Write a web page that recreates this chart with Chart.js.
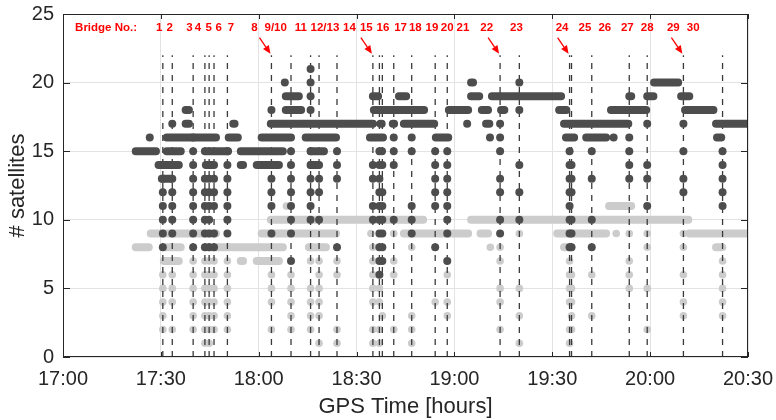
<!DOCTYPE html>
<html><head><meta charset="utf-8">
<script src="https://cdn.jsdelivr.net/npm/chart.js@4.4.1/dist/chart.umd.min.js"></script>
<style>html,body{margin:0;padding:0;background:#fff}</style>
</head><body>
<canvas id="c" width="776" height="420"></canvas>
<script>
// All times are minutes after 17:00 GPS time
const xTickValues = [0, 30, 60, 90, 120, 150, 180, 210];
const xTickLabels = ['17:00','17:30','18:00','18:30','19:00','19:30','20:00','20:30'];
const yTickStep = 5;

const bridgeTimes = [30.6, 33.5, 39.9, 43.5, 44.8, 46.3, 50.4, 63.9, 69.9, 75.9, 78.5, 84.0, 95.0, 97.0, 97.9, 101.4, 106.9, 114.1, 117.8, 134.0, 139.9, 155.3, 155.9, 162.1, 173.6, 179.1, 190.2, 202.2];
const bridgeTop = 22;

const bridgeHeader = 'Bridge No.:';
const bridgeHeaderTime = 13.2;
const bridgeLabels = ['1','2','3','4','5','6','7','8','9/10','11','12/13','14','15','16','17','18','19','20','21','22','23','24','25','26','27','28','29','30'];
const bridgeLabelTimes = [29.5, 32.7, 38.8, 41.4, 44.7, 47.7, 51.5, 58.7, 65.2, 72.9, 80.3, 87.8, 93.0, 98.1, 103.5, 108.0, 113.1, 117.8, 122.6, 129.9, 139.0, 153.0, 160.0, 166.1, 173.0, 179.1, 187.1, 193.2];
const bridgeLabelLevel = 24;
const arrowBridgeTimes = [63.9, 95.0, 134.0, 155.3, 190.2];

// dark series: horizontal runs [start, end, satellites]
const darkRuns = [
  [125.1,125.7,20],[181.2,188.6,20],
  [68.3,72.3,19],[95.0,96.6,19],[103.0,105.2,19],[125.1,127.6,19],[131.5,152.7,19],[173.6,174.2,19],[179.1,181.0,19],[189.5,192.0,19],
  [37.6,38.6,18],[68.3,73.0,18],[95.3,110.7,18],[118.3,124.2,18],[128.4,130.3,18],[134.3,135.3,18],[152.1,154.3,18],[168.0,178.8,18],[190.7,199.4,18],
  [37.6,38.6,17],[52.2,52.6,17],[63.7,95.0,17],[97.3,97.7,17],[101.1,101.5,17],[104.5,113.8,17],[129.7,130.7,17],[153.6,173.3,17],[200.2,210.0,17],
  [31.8,46.9,16],[50.8,53.6,16],[60.9,69.9,16],[74.4,83.7,16],[94.1,98.1,16],[114.3,118.1,16],[154.2,156.7,16],[160.4,166.5,16],[200.5,201.8,16],
  [22.3,28.5,15],[31.8,36.1,15],[43.5,50.6,15],[54.5,67.4,15],[76.0,80.0,15],[97.8,98.1,15],
  [29.3,35.5,14],[43.8,46.3,14],[54.5,55.2,14],[59.4,66.2,14],[76.0,78.2,14],
  [30.3,33.1,13]
];
// dark isolated points [time, satellites]
const darkDots = [[26.6,16],[68.0,20],[123.9,17],[130.9,16],[168.8,16]];
// dark drops along each bridge (same order as bridgeTimes)
const darkDropValues = [
  [13,12,11,10,9,8],[17,13,12,11,10,9],[16,15,14,13,12,11,10,9,8],[13,12,11,10,9,8],[13,12,11,10,9,8],[13,12,11,9,8],[15,14,13,12,11,10,9],
  [18,13,12,11,9],[15,14,13,12,11,10,9,7],[21,20,19,18,15,14,13,12,11,10],[14,13,12,10],[15,14,13,8],
  [14,13,11,10],[15,14,13,12,11,10,9,8,7,6],[14,12,11,10,9,8,7],[16,15,14,10],[16,15,11,10,9],[15,14,13,12,11,8],[15,14,13,12,11,10,9,7],
  [17,16,15,13,12,10,9],[20,18,14,12,10],[15,14,13,12,11,10,9,8],[14,13,12,10,9,8],[15,13,10,8],
  [16,15,14,13],[17,14,13,11],[17,15,13,12],[15,14,13,12,11]
];

// light series
const lightRuns = [
  [167.4,174.2,11],
  [63.7,110.4,10],[125.1,191.7,10],
  [26.9,46.9,9],[60.9,83.7,9],[104.5,124.2,9],[128.0,130.3,9],[151.5,166.5,9],[192.0,210.0,9],
  [22.3,26.3,8],[30.9,36.1,8],[43.8,67.4,8],[75.4,80.6,8],[153.6,155.8,8],[200.2,201.8,8],
  [30.9,35.5,7],[54.5,55.2,7],[59.4,66.2,7]
];
const lightDots = [[68.5,11],[94.4,9],[131.0,8],[169.6,9]];
const lightDropValues = [
  [6,5,4,3,2],[7,6,5,4,2],[7,6,5,4,3,2],[7,6,5,4,3,2,1],[7,6,5,4,3,2,1],[7,6,5,4,3,2],[7,6,5,4,3,2],
  [7,6,5,4,2],[6,5,4,3,2],[7,5,4,3,2],[8,7,6,5,4,3,1],[7,6,2,1],
  [8,7,6,5,4,2,1],[5,4,2,1],[3],[9,7,6,2],[8,3,2,1],[4],[6,4,3],
  [8,7,5,4,2],[9,5,3,1],[7,6,5,4,2,1],[6,5,4,3,2],[6,3],
  [9,7,6,5],[9,8,5,2],[9,8,6,4,3],[8,7,6,5,4,3]
];

const DARK = '#4d4d4d', LIGHT = '#cccccc', AXIS = '#262626', RED = '#ff0000';
const FONT = "'Liberation Sans', Arial, Helvetica, sans-serif";

function runsToPoints(runs) {
  const pts = [];
  runs.forEach(([a, b, v]) => { pts.push({x: a, y: v}, {x: b, y: v}, {x: b, y: null}); });
  return pts;
}
function dropsToPoints(times, drops, extra) {
  const pts = [];
  times.forEach((t, i) => drops[i].forEach(v => pts.push({x: t, y: v})));
  extra.forEach(([t, v]) => pts.push({x: t, y: v}));
  return pts;
}
const bridgePts = [];
bridgeTimes.forEach(t => { bridgePts.push({x: t, y: 0}, {x: t, y: bridgeTop}, {x: t, y: null}); });

const annot = {
  id: 'annot',
  afterDraw(chart) {
    const {ctx, chartArea: a, scales: {x, y}} = chart;
    ctx.save();
    // box
    ctx.strokeStyle = AXIS; ctx.lineWidth = 1;
    ctx.strokeRect(Math.round(a.left) + 0.5, Math.round(a.top) + 0.5, Math.round(a.right - a.left) - 1, Math.round(a.bottom - a.top) - 1);
    // inward ticks
    ctx.beginPath();
    xTickValues.forEach(v => {
      const p = Math.round(x.getPixelForValue(v)) + 0.5;
      ctx.moveTo(p, a.bottom); ctx.lineTo(p, a.bottom - 5);
      ctx.moveTo(p, a.top); ctx.lineTo(p, a.top + 5);
    });
    for (let v = 0; v <= 25; v += yTickStep) {
      const p = Math.round(y.getPixelForValue(v)) + 0.5;
      ctx.moveTo(a.left, p); ctx.lineTo(a.left + 7, p);
      ctx.moveTo(a.right, p); ctx.lineTo(a.right - 7, p);
    }
    ctx.stroke();
    // bridge labels
    ctx.fillStyle = RED;
    ctx.font = 'bold 11.5px ' + FONT;
    ctx.textAlign = 'center'; ctx.textBaseline = 'middle';
    const ly = y.getPixelForValue(bridgeLabelLevel);
    ctx.fillText(bridgeHeader, x.getPixelForValue(bridgeHeaderTime), ly);
    bridgeLabels.forEach((s, i) => ctx.fillText(s, x.getPixelForValue(bridgeLabelTimes[i]), ly));
    // arrows
    ctx.strokeStyle = RED; ctx.lineWidth = 1.3;
    arrowBridgeTimes.forEach(t => {
      const tx = x.getPixelForValue(t) - 1, ty = y.getPixelForValue(bridgeTop) - 1.5;
      const sx = tx - 11, sy = ty - 16;
      const ang = Math.atan2(ty - sy, tx - sx);
      const hl = 8, hw = 3.5;
      const bx = tx - hl * Math.cos(ang), by = ty - hl * Math.sin(ang);
      ctx.beginPath(); ctx.moveTo(sx, sy); ctx.lineTo(bx, by); ctx.stroke();
      ctx.beginPath();
      ctx.moveTo(tx, ty);
      ctx.lineTo(bx + hw * Math.sin(ang), by - hw * Math.cos(ang));
      ctx.lineTo(bx - hw * Math.sin(ang), by + hw * Math.cos(ang));
      ctx.closePath(); ctx.fill();
    });
    ctx.restore();
  }
};

new Chart(document.getElementById('c'), {
  type: 'line',
  data: { datasets: [
    {label: 'lightRuns', data: runsToPoints(lightRuns), borderColor: LIGHT, borderWidth: 8, borderCapStyle: 'round', borderJoinStyle: 'round', pointRadius: 0, spanGaps: false, tension: 0, order: 4},
    {label: 'lightDots', data: dropsToPoints(bridgeTimes, lightDropValues, lightDots), showLine: false, pointRadius: 3.8, pointBackgroundColor: LIGHT, pointBorderWidth: 0, order: 3},
    {label: 'bridges', data: bridgePts, borderColor: '#3a3a3a', borderWidth: 1.3, borderDash: [6, 6], pointRadius: 0, spanGaps: false, order: 2},
    {label: 'darkRuns', data: runsToPoints(darkRuns), borderColor: DARK, borderWidth: 8, borderCapStyle: 'round', borderJoinStyle: 'round', pointRadius: 0, spanGaps: false, tension: 0, order: 1},
    {label: 'darkDots', data: dropsToPoints(bridgeTimes, darkDropValues, darkDots), showLine: false, pointRadius: 4, pointBackgroundColor: DARK, pointBorderWidth: 0, order: 0}
  ]},
  options: {
    responsive: false, animation: false, events: [],
    layout: {padding: {top: 14, right: 28, left: 0, bottom: 0}},
    plugins: {legend: {display: false}, tooltip: {enabled: false}},
    scales: {
      x: {
        type: 'linear', min: 0, max: 210,
        afterFit(s) { s.height = 63; s.paddingLeft = 0; s.paddingRight = 0; s.paddingTop = 0; s.paddingBottom = 0; },
        afterBuildTicks(s) { s.ticks = xTickValues.map(v => ({value: v})); },
        ticks: {callback: v => xTickLabels[xTickValues.indexOf(v)], font: {family: FONT, size: 20}, color: AXIS, padding: 10, maxRotation: 0, autoSkip: false},
        grid: {color: '#e3e3e3', drawTicks: false},
        border: {display: false},
        title: {display: true, text: 'GPS Time [hours]', font: {family: FONT, size: 22}, color: AXIS, padding: {top: 0, bottom: 0}}
      },
      y: {
        type: 'linear', min: 0, max: 25,
        afterFit(s) { s.width = 63; s.paddingLeft = 0; s.paddingRight = 0; s.paddingTop = 0; s.paddingBottom = 0; },
        ticks: {stepSize: yTickStep, font: {family: FONT, size: 20}, color: AXIS, padding: 9},
        grid: {color: '#e3e3e3', drawTicks: false},
        border: {display: false},
        title: {display: true, text: '# satellites', font: {family: FONT, size: 22}, color: AXIS, padding: {top: 5, bottom: 0}}
      }
    }
  },
  plugins: [annot]
});
</script>
</body></html>
